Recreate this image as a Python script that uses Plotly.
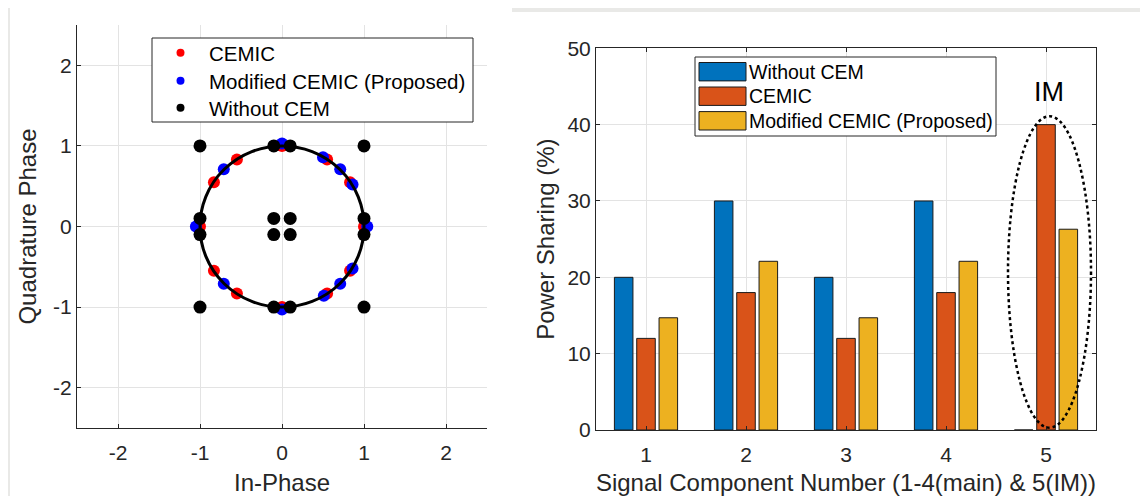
import plotly.graph_objects as go

# ---------------- data: constellation (left) ----------------
cemic_i = [1.0, 0.83, 0.55, 0.0, -0.55, -0.83, -1.0, -0.83, -0.55, 0.0, 0.55, 0.83]
cemic_q = [0.0, 0.55, 0.83, 1.0, 0.83, 0.55, 0.0, -0.55, -0.83, -1.0, -0.83, -0.55]
mod_i = [1.04, 0.86, 0.71, 0.5, 0.0, -0.71, -1.05, -0.71, 0.0, 0.51, 0.71, 0.86]
mod_q = [0.0, 0.52, 0.71, 0.86, 1.03, 0.71, 0.0, -0.71, -1.03, -0.86, -0.71, -0.52]
wo_i = [-1, 1, -1, 1, -0.1, 0.1, -0.1, 0.1, -1, -1, 1, 1, -0.1, 0.1, -0.1, 0.1]
wo_q = [1, 1, -1, -1, 1, 1, -1, -1, 0.1, -0.1, 0.1, -0.1, 0.1, 0.1, -0.1, -0.1]
iq_ticks = [-2, -1, 0, 1, 2]
iq_tick_labels = ["-2", "-1", "0", "1", "2"]

# ---------------- data: power sharing (right) ----------------
components = [1, 2, 3, 4, 5]
without_cem = [20, 30, 20, 30, 0]
cemic_share = [12, 18, 12, 18, 40]
modified_share = [14.7, 22.1, 14.7, 22.1, 26.3]
share_ticks = [0, 10, 20, 30, 40, 50]

FONT = "Arial, 'Liberation Sans', sans-serif"
AX = "#262626"
GRID = "#e3e3e3"

# the page body adds an 8px offset; the figure fills the remaining viewport
OFF = 8
W, H = 1148 - OFF, 496 - OFF


def px_x(p):
    return (p - OFF) / W


def px_y(p):
    return 1 - (p - OFF) / H


fig = go.Figure()

# left panel traces (legend keys use smaller dots, as in the source)
scatter_series = [
    ("CEMIC", cemic_i, cemic_q, "#ff0000", 12, "legend", 53),
    ("Modified CEMIC (Proposed)", mod_i, mod_q, "#0000ff", 12, "legend2", 81),
    ("Without CEM", wo_i, wo_q, "#000000", 13, "legend3", 108),
]
for name, xs, ys, col, sz, lg, row in scatter_series:
    fig.add_trace(go.Scatter(x=xs, y=ys, mode="markers", name=name, legendgroup=name,
                             showlegend=False, marker=dict(color=col, size=sz),
                             xaxis="x", yaxis="y"))
for name, xs, ys, col, sz, lg, row in scatter_series:
    fig.add_trace(go.Scatter(x=[None], y=[None], mode="markers", name=name, legendgroup=name,
                             legend=lg, marker=dict(color=col, size=8),
                             xaxis="x", yaxis="y"))

# right panel traces (legend keys are drawn as wide patches below)
bar_series = [("Without CEM", without_cem, "#0072BD", "legend4", 71.7),
              ("CEMIC", cemic_share, "#D95319", "legend5", 96.2),
              ("Modified CEMIC (Proposed)", modified_share, "#EDB120", "legend6", 120.8)]
for name, vals, col, lg, row in bar_series:
    fig.add_trace(go.Bar(x=components, y=vals, name=name, legendgroup=name, showlegend=False,
                         marker=dict(color=col, line=dict(color="#1a1a1a", width=1)),
                         xaxis="x2", yaxis="y2"))
for name, vals, col, lg, row in bar_series:
    fig.add_trace(go.Scatter(x=[None], y=[None], mode="markers", name=name, legendgroup=name,
                             legend=lg, marker=dict(color="rgba(0,0,0,0)", size=1),
                             xaxis="x2", yaxis="y2"))

common_axis = dict(
    showgrid=True, gridcolor=GRID, gridwidth=1, zeroline=False,
    showline=True, linecolor=AX, linewidth=1,
    ticks="inside", ticklen=4, tickcolor=AX,
    tickfont=dict(family=FONT, size=21, color=AX),
)

legend_layouts = {}
for name, xs, ys, col, sz, lg, row in scatter_series:
    legend_layouts[lg] = dict(x=px_x(152), y=px_y(row), xanchor="left", yanchor="middle",
                              bgcolor="rgba(0,0,0,0)", borderwidth=0,
                              font=dict(family=FONT, size=20.5, color="#000000"),
                              itemwidth=47)
for name, vals, col, lg, row in bar_series:
    legend_layouts[lg] = dict(x=px_x(695), y=px_y(row), xanchor="left", yanchor="middle",
                              bgcolor="rgba(0,0,0,0)", borderwidth=0,
                              font=dict(family=FONT, size=19.5, color="#000000"),
                              itemwidth=44)

fig.update_layout(
    width=W, height=H,
    margin=dict(l=0, r=0, t=0, b=0, autoexpand=False),
    paper_bgcolor="white", plot_bgcolor="white",
    font=dict(family=FONT, color=AX),
    barmode="group", bargap=0.33, bargroupgap=0.17,
    xaxis=dict(domain=[px_x(77), px_x(487)], range=[-2.5, 2.5], anchor="y",
               tickmode="array", tickvals=iq_ticks, ticktext=iq_tick_labels,
               ticklabelstandoff=6,
               title=dict(text="In-Phase", font=dict(family=FONT, size=24, color=AX), standoff=13),
               **common_axis),
    yaxis=dict(domain=[px_y(428), px_y(25)], range=[-2.5, 2.5], anchor="x",
               tickmode="array", tickvals=iq_ticks, ticktext=iq_tick_labels,
               title=dict(text="Quadrature Phase", font=dict(family=FONT, size=24, color=AX), standoff=9),
               **common_axis),
    xaxis2=dict(domain=[px_x(596), px_x(1096)], range=[0.5, 5.5], anchor="y2",
                tickmode="array", tickvals=components, mirror="ticks",
                ticklabelstandoff=6,
                title=dict(text="Signal Component Number (1-4(main) & 5(IM))",
                           font=dict(family=FONT, size=24, color=AX), standoff=12),
                **common_axis),
    yaxis2=dict(domain=[px_y(430), px_y(48.3)], range=[0, 50], anchor="x2",
                tickmode="array", tickvals=share_ticks, mirror="ticks",
                title=dict(text="Power Sharing (%)", font=dict(family=FONT, size=24, color=AX), standoff=6),
                **common_axis),
    showlegend=True,
    **legend_layouts,
)

# grey backdrop strips around the white panels
gray = "#e9e9e7"
fig.add_shape(type="rect", xref="paper", yref="paper", x0=px_x(0), x1=px_x(10), y0=0, y1=px_y(0),
              fillcolor=gray, line=dict(width=0), layer="below")
fig.add_shape(type="rect", xref="paper", yref="paper", x0=px_x(0), x1=1, y0=px_y(5), y1=px_y(0),
              fillcolor=gray, line=dict(width=0), layer="below")
fig.add_shape(type="rect", xref="paper", yref="paper", x0=px_x(512), x1=1, y0=px_y(12), y1=px_y(0),
              fillcolor=gray, line=dict(width=0), layer="below")

# legend frames
fig.add_shape(type="rect", xref="paper", yref="paper", x0=px_x(152), x1=px_x(473),
              y0=px_y(122), y1=px_y(38), fillcolor="white",
              line=dict(color=AX, width=1), layer="above")
fig.add_shape(type="rect", xref="paper", yref="paper", x0=px_x(695), x1=px_x(996),
              y0=px_y(136), y1=px_y(57), fillcolor="white",
              line=dict(color=AX, width=1), layer="above")
# wide legend patches for the bar series
for name, vals, col, lg, row in bar_series:
    fig.add_shape(type="rect", xref="paper", yref="paper", x0=px_x(699), x1=px_x(746),
                  y0=px_y(row + 9.2), y1=px_y(row - 9.2), fillcolor=col,
                  line=dict(color="#1a1a1a", width=1), layer="above")

# unit circle on the constellation
fig.add_shape(type="circle", xref="x", yref="y", x0=-1, x1=1, y0=-1, y1=1,
              line=dict(color="#000000", width=3), layer="above")

# dotted ellipse around IM bars
fig.add_shape(type="circle", xref="x2", yref="y2", x0=4.62, x1=5.45, y0=0.3, y1=41.1,
              line=dict(color="#000000", width=2.5, dash="dot"), layer="above")
fig.add_annotation(x=5.03, y=44.3, xref="x2", yref="y2", text="IM", showarrow=False,
                   font=dict(family=FONT, size=27, color="#000000"))

fig.write_html("out.html")
